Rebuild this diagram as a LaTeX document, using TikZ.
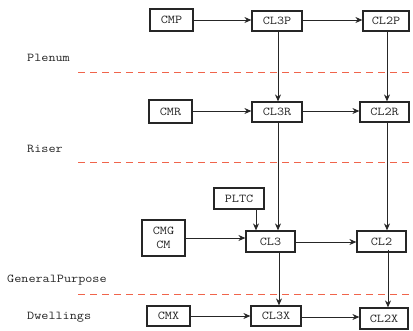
\documentclass[tikz,border=0pt]{standalone}
\usepackage{fontspec}
\setmonofont[FakeStretch=1.15]{Latin Modern Mono}
\usetikzlibrary{arrows.meta}
\definecolor{sepred}{RGB}{240,100,75}
\begin{document}
\begin{tikzpicture}[x=1pt,y=-1pt,
  every node/.style={font=\ttfamily\fontsize{12}{14}\selectfont, text=black!85},
  box/.style={draw=black!85, line width=1.2pt, inner sep=0pt, minimum height=20pt, minimum width=50pt},
  conn/.style={draw=black!85, line width=0.9pt, -{Stealth[length=7pt,width=6pt]}},
  sep/.style={color=sepred, line width=1pt, dash pattern=on 7pt off 5pt},
  lab/.style={anchor=west, inner sep=0pt}]
\useasboundingbox (0,0) rectangle (413,330);
% separators
\coordinate (s1a) at (78,72); \coordinate (s1b) at (413,72);
\coordinate (s2a) at (78,162); \coordinate (s2b) at (413,162);
\coordinate (s3a) at (78,294); \coordinate (s3b) at (413,294);
\draw[sep] (s1a) -- (s1b) (s2a) -- (s2b) (s3a) -- (s3b);
% boxes
\node[box, minimum width=43pt, minimum height=22pt] (CMP) at (171.5,20) {CMP};
\node[box] (CL3P) at (277,21) {CL3P};
\node[box, minimum width=46pt] (CL2P) at (386,21) {CL2P};
\node[box, minimum width=43pt, minimum height=23pt] (CMR) at (170.5,111.5) {CMR};
\node[box] (CL3R) at (277,112) {CL3R};
\node[box, minimum width=49pt] (CL2R) at (384.5,112) {CL2R};
\node[box, minimum height=21pt] (PLTC) at (239,198.5) {PLTC};
\node[box, minimum width=43pt, minimum height=36pt, align=center] (CMG) at (163.5,238) {CMG\\[0pt]CM};
\node[box, minimum width=49pt, minimum height=21pt] (CL3) at (270.5,241.5) {CL3};
\node[box, minimum width=49pt, minimum height=21pt] (CL2) at (381.5,241.5) {CL2};
\node[box, minimum width=43pt] (CMX) at (168.5,316) {CMX};
\node[box] (CL3X) at (276,316) {CL3X};
\node[box, minimum width=48pt, minimum height=21pt] (CL2X) at (384,318.5) {CL2X};
% labels
\node[lab] (lp) at (27,58) {Plenum};
\node[lab] (lr) at (27,149) {Riser};
\node[lab] (lg) at (7,280) {GeneralPurpose};
\node[lab] (ld) at (27,317) {Dwellings};
% horizontal connectors
\draw[conn] (CMP.east |- 0,20) -- (CL3P.west |- 0,20);
\draw[conn] (CL3P.east |- 0,20) -- (CL2P.west |- 0,20);
\draw[conn] (CMR.east |- 0,111) -- (CL3R.west |- 0,111);
\draw[conn] (CL3R.east |- 0,111) -- (CL2R.west |- 0,111);
\draw[conn] (CMG.east |- 0,238) -- (CL3.west |- 0,238);
\draw[conn] (CL3.east |- 0,242) -- (CL2.west |- 0,242);
\draw[conn] (CMX.east |- 0,316) -- (CL3X.west |- 0,316);
\draw[conn] (CL3X.east |- 0,317) -- (CL2X.west |- 0,317);
% vertical connectors
\draw[conn] (CL3P.south -| 278,0) -- (CL3R.north -| 278,0);
\draw[conn] (CL2P.south -| 387,0) -- (CL2R.north -| 387,0);
\draw[conn] (CL3R.south -| 278,0) -- (CL3.north -| 278,0);
\draw[conn] (CL2R.south -| 387,0) -- (CL2.north -| 387,0);
\draw[conn] (PLTC.south -| 256,0) -- (CL3.north -| 256,0);
\draw[conn] (CL3.south -| 279,0) -- (CL3X.north -| 279,0);
\draw[conn] ([yshift=3pt]CL2.south -| 388,0) -- (CL2X.north -| 388,0);
\end{tikzpicture}
\end{document}
